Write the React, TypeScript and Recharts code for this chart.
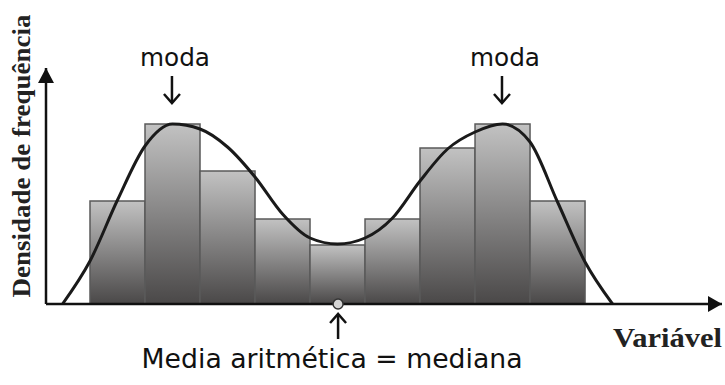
import { ComposedChart, Bar, Line, XAxis, YAxis, ReferenceLine, ReferenceDot } from 'recharts'

// histogram bins (x in bin units, bin i spans [i, i+1])
const binCenters = [0.5, 1.5, 2.5, 3.5, 4.5, 5.5, 6.5, 7.5, 8.5]
const binHeights = [103, 180, 133, 85, 59, 85, 156, 180, 103]

// density curve drawn over the bars
const curveX = [-0.5, 0, 0.5, 1, 1.5, 2, 2.5, 3, 3.5, 4, 4.5, 5, 5.5, 6, 6.5, 7, 7.5, 8, 8.5, 9, 9.5]
const curveY = [0, 43, 104, 158, 180, 175, 157, 127, 90, 66, 60, 66, 86, 123, 155, 172, 180, 162, 102, 42, 0]

const modeX = [1.49, 7.49]
const meanX = 4.51

const X_MIN = -0.8
const X_MAX = 11.49
const Y_MAX = 236

const W = 725
const H = 385
const margin = { top: 68, right: 3, bottom: 81, left: 46 }
// one bin is one x unit wide
const binPx = (W - margin.left - margin.right) / (X_MAX - X_MIN)

const data = curveX.map((x) => {
  const i = binCenters.indexOf(x)
  return {
    x,
    curve: curveY[curveX.indexOf(x)],
    bin: i >= 0 ? binHeights[i] : null,
  }
})

const comic = '"Comic Sans MS", "DejaVu Sans", sans-serif'
const serif = '"Liberation Serif", "Times New Roman", serif'

// bar width comes from the bin width, not the point spacing
const BinShape = (props: any) => {
  const { x, y, width, height } = props
  if (!height) return null
  const cx = x + width / 2
  return (
    <rect x={cx - binPx / 2} y={y} width={binPx} height={height} fill="url(#binFill)" stroke="#5a5a5a" strokeWidth={1.5} />
  )
}

const ModaMark = (props: any) => {
  const { cx, cy } = props
  return (
    <g>
      <text x={cx + 3} y={cy - 58} textAnchor="middle" fontFamily={comic} fontSize={24} fill="#111" textLength={70} lengthAdjust="spacingAndGlyphs">
        moda
      </text>
      <line x1={cx} y1={cy - 48} x2={cx} y2={cy - 21} stroke="#111" strokeWidth={2.5} />
      <polyline points={`${cx - 8},${cy - 30} ${cx},${cy - 21} ${cx + 8},${cy - 30}`} fill="none" stroke="#111" strokeWidth={2.5} />
    </g>
  )
}

const MeanMark = (props: any) => {
  const { cx, cy } = props
  return (
    <g>
      <circle cx={cx} cy={cy} r={5} fill="#d4d4d4" stroke="#333" strokeWidth={1.5} />
      <line x1={cx} y1={cy + 10} x2={cx} y2={cy + 35} stroke="#111" strokeWidth={2.5} />
      <polyline points={`${cx - 8},${cy + 19} ${cx},${cy + 10} ${cx + 8},${cy + 19}`} fill="none" stroke="#111" strokeWidth={2.5} />
      <text x={cx - 6} y={cy + 64} textAnchor="middle" fontFamily={comic} fontSize={26} fill="#111" textLength={381} lengthAdjust="spacingAndGlyphs">
        Media aritmética = mediana
      </text>
    </g>
  )
}

const YArrow = (props: any) => {
  const { cx, cy } = props
  return (
    <g>
      <polygon points={`${cx},${cy} ${cx - 8},${cy + 15} ${cx + 8},${cy + 15}`} fill="#111" />
      <text
        transform={`translate(${cx - 25},${cy + 88}) rotate(-90)`}
        textAnchor="middle"
        dominantBaseline="central"
        fontFamily={serif}
        fontWeight="bold"
        fontSize={26}
        fill="#222"
        textLength={283}
        lengthAdjust="spacingAndGlyphs"
      >
        Densidade de frequência
      </text>
    </g>
  )
}

const XArrow = (props: any) => {
  const { cx, cy } = props
  return (
    <g>
      <polygon points={`${cx},${cy} ${cx - 14},${cy - 8} ${cx - 14},${cy + 8}`} fill="#111" />
      <text x={cx} y={cy + 43} textAnchor="end" fontFamily={serif} fontWeight="bold" fontSize={27} fill="#222" textLength={109} lengthAdjust="spacingAndGlyphs">
        Variável
      </text>
    </g>
  )
}

export default function App() {
  return (
    <div style={{ position: 'absolute', left: 0, top: 0, width: W, height: H, background: '#fff' }}>
      <ComposedChart width={W} height={H} data={data} margin={margin}>
        <defs>
          <linearGradient id="binFill" x1="0" y1="0" x2="0" y2="1">
            <stop offset="0%" stopColor="#c2c2c2" />
            <stop offset="100%" stopColor="#4a4848" />
          </linearGradient>
        </defs>
        <XAxis dataKey="x" type="number" domain={[X_MIN, X_MAX]} allowDataOverflow hide />
        <YAxis type="number" domain={[0, Y_MAX]} allowDataOverflow hide />
        <Bar dataKey="bin" fill="url(#binFill)" shape={BinShape} isAnimationActive={false} />
        <Line dataKey="curve" type="monotone" stroke="#1a1a1a" strokeWidth={3} dot={false} activeDot={false} isAnimationActive={false} />
        <ReferenceLine y={0} stroke="#111" strokeWidth={2.5} ifOverflow="visible" />
        <ReferenceLine x={X_MIN} stroke="#111" strokeWidth={2.5} ifOverflow="visible" />
        <ReferenceDot x={X_MIN} y={Y_MAX} ifOverflow="visible" shape={YArrow} />
        <ReferenceDot x={X_MAX} y={0} ifOverflow="visible" shape={XArrow} />
        {modeX.map((m) => (
          <ReferenceDot key={m} x={m} y={180} ifOverflow="visible" shape={ModaMark} />
        ))}
        <ReferenceDot x={meanX} y={0} ifOverflow="visible" shape={MeanMark} />
      </ComposedChart>
    </div>
  )
}
